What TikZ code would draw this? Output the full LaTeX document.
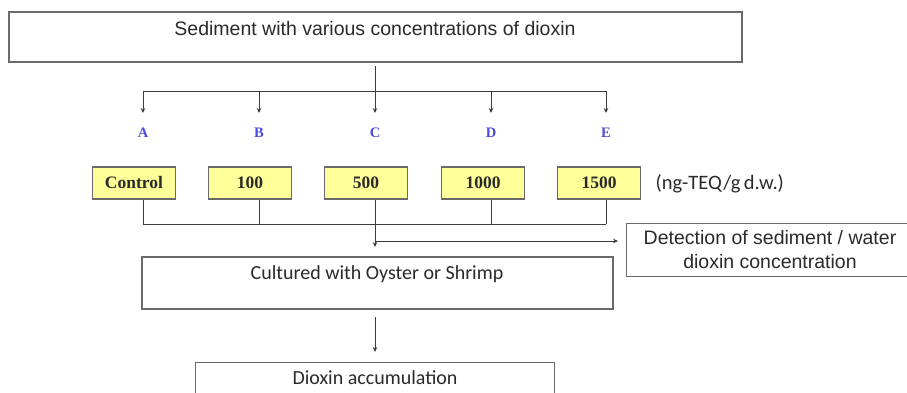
\documentclass[tikz,border=0pt]{standalone}
\usepackage{fontspec}
\setmainfont{Liberation Serif}
\newfontfamily\arialf{Liberation Sans}
\newfontfamily\calf{Carlito}
\usetikzlibrary{arrows.meta}
\definecolor{linec}{HTML}{3C3C3C}
\definecolor{boxc}{HTML}{6A6A6A}
\definecolor{yel}{HTML}{FFFF99}
\definecolor{letc}{HTML}{4B4BE0}
\definecolor{txtc}{HTML}{2A2A2A}
\tikzset{
  wbox/.style={draw=boxc, line width=1.4pt, fill=white, inner sep=0pt},
  ybox/.style={draw=boxc, line width=1.4pt, fill=yel, inner sep=0pt, minimum width=83pt, minimum height=32pt, font=\bfseries\fontsize{17.5}{19}\selectfont, text=txtc},
  conn/.style={draw=linec, line width=1pt},
  arr/.style={conn, -{Stealth[length=5pt,width=4.5pt]}},
  letter/.style={font=\bfseries\fontsize{14.5}{16}\selectfont, text=letc},
}
\begin{document}
\begin{tikzpicture}[x=1pt,y=-1pt]
\useasboundingbox (0,0) rectangle (907,392);
\clip (0,0) rectangle (907,392);
% top box
\node[wbox, minimum width=733pt, minimum height=50pt] (top) at (375.5,37) {};
\node[font=\arialf\fontsize{19.5}{22}\selectfont, text=txtc] (toptext) at (375,29) {Sediment with various concentrations of dioxin};
% branch
\coordinate (split) at (375,91);
\coordinate (ta) at (143,113);
\coordinate (tb) at (259,113);
\coordinate (tc) at (375,113);
\coordinate (td) at (491,113);
\coordinate (te) at (606,113);
\coordinate (tstart) at (375,66);
\draw[conn] (tstart) -- (split);
\draw[arr] (split) -- (tc);
\draw[conn] (ta |- split) -- (te |- split);
\draw[arr] (ta |- split) -- (ta);
\draw[arr] (tb |- split) -- (tb);
\draw[arr] (td |- split) -- (td);
\draw[arr] (te |- split) -- (te);
% letters
\node[letter] (la) at (143,133) {A};
\node[letter] (lb) at (259,133) {B};
\node[letter] (lc) at (375,133) {C};
\node[letter] (ld) at (491,133) {D};
\node[letter] (le) at (606,133) {E};
% yellow boxes
\node[ybox] (ctrl) at (134,183) {Control};
\node[ybox] (c100) at (250,183) {100};
\node[ybox] (c500) at (366,183) {500};
\node[ybox] (c1000) at (483,183) {1000};
\node[ybox] (c1500) at (599,183) {1500};
\node[font=\calf\fontsize{20.5}{23}\selectfont, text=txtc, anchor=west] (unit) at (652,184) {(ng-TEQ/g\,d.w.)};
% merge
\coordinate (ma) at (143,224);
\coordinate (mb) at (259,224);
\coordinate (md) at (491,224);
\coordinate (me) at (606,224);
\draw[conn] (ctrl.south -| ma) -- (ma);
\draw[conn] (c100.south -| mb) -- (mb);
\draw[conn] (c1000.south -| md) -- (md);
\draw[conn] (c1500.south -| me) -- (me);
\draw[conn] (ma) -- (me);
\coordinate (cend) at (375,247);
\draw[arr] (c500.south -| cend) -- (cend);
% detection
\node[wbox, minimum width=290pt, minimum height=53pt, anchor=north west] (det) at (626,223) {};
\node[font=\arialf\fontsize{19.5}{24}\selectfont, text=txtc, align=center] (dettext) at (770,250) {Detection of sediment / water\\dioxin concentration};
\coordinate (hs) at (375,241);
\coordinate (hend) at (618,241);
\draw[arr] (hs) -- (hend);
% cultured
\node[wbox, minimum width=471pt, minimum height=52pt] (cult) at (377.5,283) {};
\node[font=\calf\fontsize{20}{22}\selectfont, text=txtc] (culttext) at (377,274) {Cultured with Oyster or Shrimp};
\coordinate (a2s) at (375,317);
\coordinate (a2e) at (375,352);
\draw[arr] (a2s) -- (a2e);
% dioxin accumulation
\node[wbox, minimum width=359pt, minimum height=50pt, anchor=north west] (diox) at (195,362) {};
\node[font=\calf\fontsize{20}{22}\selectfont, text=txtc] (dioxtext) at (375,378) {Dioxin accumulation};
\end{tikzpicture}
\end{document}
